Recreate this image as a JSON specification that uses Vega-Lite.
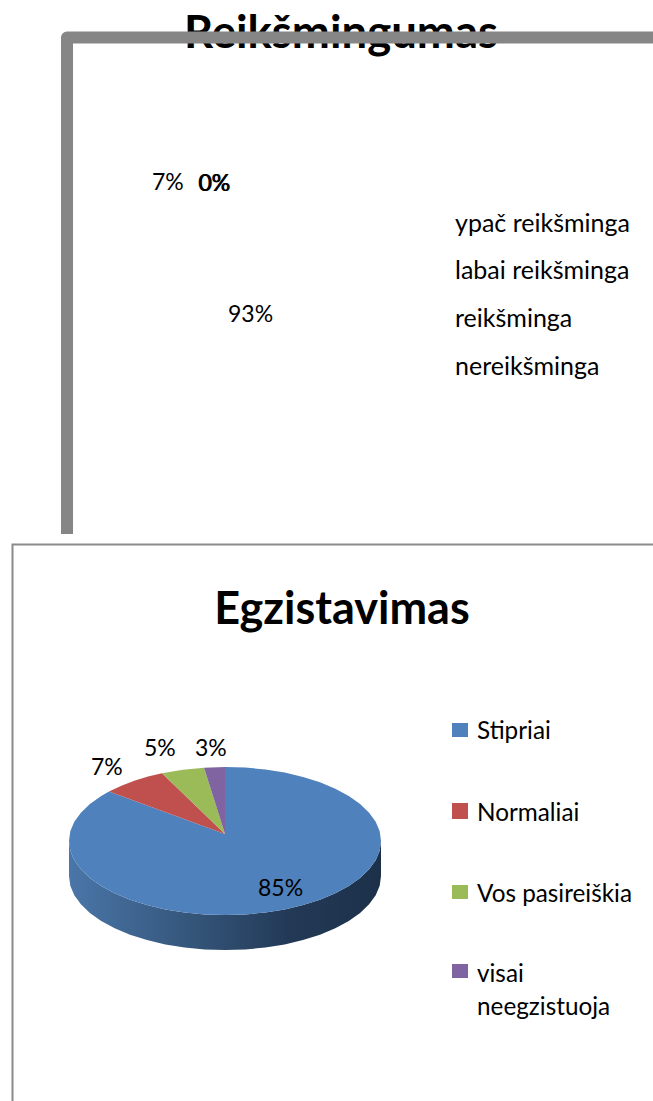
{
"$schema":"https://vega.github.io/schema/vega-lite/v6.json",
"width":653,"height":1101,"padding":0,"autosize":{"type":"none"},"background":"white",
"view":{"stroke":null},
"datasets":{
"title1":[{"t":"Reikšmingumas","x":341,"y":48}],
"title2":[{"t":"Egzistavimas","x":342,"y":624}],
"labels":[
{"t":"7%","x":152,"y":183},{"t":"0%","x":198,"y":184},{"t":"0%","x":199,"y":184},{"t":"93%","x":228,"y":315},
{"t":"7%","x":91,"y":768},{"t":"5%","x":144,"y":749},{"t":"3%","x":195,"y":749},{"t":"85%","x":258,"y":889}],
"legendTop":[
{"t":"ypač reikšminga","x":455,"y":224},{"t":"labai reikšminga","x":455,"y":271},{"t":"reikšminga","x":455,"y":319},{"t":"nereikšminga","x":455,"y":367}],
"legendBottom":[
{"t":"Stipriai","x":477,"y":732},{"t":"Normaliai","x":477,"y":814},{"t":"Vos pasireiškia","x":477,"y":895},{"t":"visai","x":477,"y":975},{"t":"neegzistuoja","x":477,"y":1008}],
"frames":[
{"f":"top","i":1,"x":67,"y":534},{"f":"top","i":2,"x":67,"y":37.5},{"f":"top","i":3,"x":653,"y":37.5}],
"frames2":[
{"f":"bottom","i":1,"x":12.5,"y":1101},{"f":"bottom","i":2,"x":12.5,"y":544.5},{"f":"bottom","i":3,"x":653,"y":544.5}],
"wall":[
{"x":69,"y":841,"y2":876},{"x":70.3,"y":850.7,"y2":885.7},{"x":74.3,"y":860.2,"y2":895.2},{"x":80.9,"y":869.3,"y2":904.3},{"x":89.9,"y":878,"y2":913},{"x":101.2,"y":886,"y2":921},{"x":114.7,"y":893.3,"y2":928.3},{"x":130,"y":899.7,"y2":934.7},{"x":147,"y":905.1,"y2":940.1},{"x":165.3,"y":909.4,"y2":944.4},{"x":184.6,"y":912.5,"y2":947.5},{"x":204.6,"y":914.4,"y2":949.4},{"x":225,"y":915,"y2":950},{"x":245.4,"y":914.4,"y2":949.4},{"x":265.4,"y":912.5,"y2":947.5},{"x":284.7,"y":909.4,"y2":944.4},{"x":303,"y":905.1,"y2":940.1},{"x":320,"y":899.7,"y2":934.7},{"x":335.3,"y":893.3,"y2":928.3},{"x":348.8,"y":886,"y2":921},{"x":360.1,"y":878,"y2":913},{"x":369.1,"y":869.3,"y2":904.3},{"x":375.7,"y":860.2,"y2":895.2},{"x":379.7,"y":850.7,"y2":885.7},{"x":381,"y":841,"y2":876}],
"slices":[
{"s":"Stipriai","i":0,"x":225,"y":834},{"s":"Stipriai","i":1,"x":225,"y":767},{"s":"Stipriai","i":2,"x":245.4,"y":767.6},{"s":"Stipriai","i":3,"x":265.4,"y":769.5},{"s":"Stipriai","i":4,"x":284.7,"y":772.6},{"s":"Stipriai","i":5,"x":303,"y":776.9},{"s":"Stipriai","i":6,"x":320,"y":782.3},{"s":"Stipriai","i":7,"x":335.3,"y":788.7},{"s":"Stipriai","i":8,"x":348.8,"y":796},{"s":"Stipriai","i":9,"x":360.1,"y":804},{"s":"Stipriai","i":10,"x":369.1,"y":812.7},{"s":"Stipriai","i":11,"x":375.7,"y":821.8},{"s":"Stipriai","i":12,"x":379.7,"y":831.3},{"s":"Stipriai","i":13,"x":381,"y":841},{"s":"Stipriai","i":14,"x":379.7,"y":850.7},{"s":"Stipriai","i":15,"x":375.7,"y":860.2},{"s":"Stipriai","i":16,"x":369.1,"y":869.3},{"s":"Stipriai","i":17,"x":360.1,"y":878},{"s":"Stipriai","i":18,"x":348.8,"y":886},{"s":"Stipriai","i":19,"x":335.3,"y":893.3},{"s":"Stipriai","i":20,"x":320,"y":899.7},{"s":"Stipriai","i":21,"x":303,"y":905.1},{"s":"Stipriai","i":22,"x":284.7,"y":909.4},{"s":"Stipriai","i":23,"x":265.4,"y":912.5},{"s":"Stipriai","i":24,"x":245.4,"y":914.4},{"s":"Stipriai","i":25,"x":225,"y":915},{"s":"Stipriai","i":26,"x":204.6,"y":914.4},{"s":"Stipriai","i":27,"x":184.6,"y":912.5},{"s":"Stipriai","i":28,"x":165.3,"y":909.4},{"s":"Stipriai","i":29,"x":147,"y":905.1},{"s":"Stipriai","i":30,"x":130,"y":899.7},{"s":"Stipriai","i":31,"x":114.7,"y":893.3},{"s":"Stipriai","i":32,"x":101.2,"y":886},{"s":"Stipriai","i":33,"x":89.9,"y":878},{"s":"Stipriai","i":34,"x":80.9,"y":869.3},{"s":"Stipriai","i":35,"x":74.3,"y":860.2},{"s":"Stipriai","i":36,"x":70.3,"y":850.7},{"s":"Stipriai","i":37,"x":69,"y":841},{"s":"Stipriai","i":38,"x":70.3,"y":831.3},{"s":"Stipriai","i":39,"x":74.3,"y":821.8},{"s":"Stipriai","i":40,"x":80.9,"y":812.7},{"s":"Stipriai","i":41,"x":89.9,"y":804},{"s":"Stipriai","i":42,"x":101.2,"y":796},{"s":"Stipriai","i":43,"x":109,"y":791.5},
{"s":"Normaliai","i":0,"x":225,"y":834},{"s":"Normaliai","i":1,"x":109,"y":791.5},{"s":"Normaliai","i":2,"x":122,"y":785.5},{"s":"Normaliai","i":3,"x":135,"y":780.5},{"s":"Normaliai","i":4,"x":148,"y":776.6},{"s":"Normaliai","i":5,"x":162,"y":773.3},
{"s":"Vos pasireiškia","i":0,"x":225,"y":834},{"s":"Vos pasireiškia","i":1,"x":162,"y":773.3},{"s":"Vos pasireiškia","i":2,"x":183,"y":769.7},{"s":"Vos pasireiškia","i":3,"x":204,"y":767.7},
{"s":"visai neegzistuoja","i":0,"x":225,"y":834},{"s":"visai neegzistuoja","i":1,"x":204,"y":767.7},{"s":"visai neegzistuoja","i":2,"x":225,"y":767}],
"swatches":[
{"s":"Stipriai","x":452,"x2":468,"y":723,"y2":737},
{"s":"Normaliai","x":452,"x2":468,"y":803,"y2":819},
{"s":"Vos pasireiškia","x":452,"x2":468,"y":885,"y2":899},
{"s":"visai neegzistuoja","x":452,"x2":468,"y":964,"y2":978}]
},
"encoding":{
"x":{"field":"x","type":"quantitative","axis":null,"scale":{"domain":[0,653],"nice":false,"zero":false}},
"y":{"field":"y","type":"quantitative","axis":null,"scale":{"domain":[1101,0],"nice":false,"zero":false}}
},
"layer":[
{"data":{"name":"title1"},"mark":{"type":"text","font":"Lato","fontWeight":"bold","fontSize":45.5,"align":"center","baseline":"alphabetic","color":"#000"},"encoding":{"text":{"field":"t"}}},
{"data":{"name":"title2"},"mark":{"type":"text","font":"Lato","fontWeight":"bold","fontSize":45,"align":"center","baseline":"alphabetic","color":"#000"},"encoding":{"text":{"field":"t"}}},
{"data":{"name":"frames"},"mark":{"type":"line","color":"#868686","strokeWidth":12,"strokeJoin":"round","strokeCap":"butt"},"encoding":{"order":{"field":"i"}}},
{"data":{"name":"frames2"},"mark":{"type":"line","color":"#8a8a8a","strokeWidth":2},"encoding":{"order":{"field":"i"}}},
{"data":{"name":"wall"},"mark":{"type":"area","color":{"gradient":"linear","x1":0,"y1":0,"x2":1,"y2":0,"stops":[{"offset":0,"color":"#4a76a8"},{"offset":0.35,"color":"#37597f"},{"offset":0.7,"color":"#233a57"},{"offset":1,"color":"#1c3049"}]}},"encoding":{"y2":{"field":"y2"}}},
{"data":{"name":"slices"},"mark":{"type":"line","filled":true,"strokeWidth":0},"encoding":{"fill":{"field":"s","type":"nominal","legend":null,"scale":{"domain":["Stipriai","Normaliai","Vos pasireiškia","visai neegzistuoja"],"range":["#4f81bd","#c0504d","#9bbb59","#8064a2"]}},"order":{"field":"i"}}},
{"data":{"name":"swatches"},"mark":{"type":"rect"},"encoding":{"x2":{"field":"x2"},"y2":{"field":"y2"},"fill":{"field":"s","type":"nominal","legend":null,"scale":{"domain":["Stipriai","Normaliai","Vos pasireiškia","visai neegzistuoja"],"range":["#4f81bd","#c0504d","#9bbb59","#8064a2"]}}}},
{"data":{"name":"labels"},"mark":{"type":"text","font":"Lato","fontSize":23,"align":"left","baseline":"middle","color":"#000"},"encoding":{"text":{"field":"t"}}},
{"data":{"name":"legendTop"},"mark":{"type":"text","font":"Lato","fontSize":25,"align":"left","baseline":"middle","color":"#000"},"encoding":{"text":{"field":"t"}}},
{"data":{"name":"legendBottom"},"mark":{"type":"text","font":"Lato","fontSize":24.3,"align":"left","baseline":"middle","color":"#000"},"encoding":{"text":{"field":"t"}}}
]
}
